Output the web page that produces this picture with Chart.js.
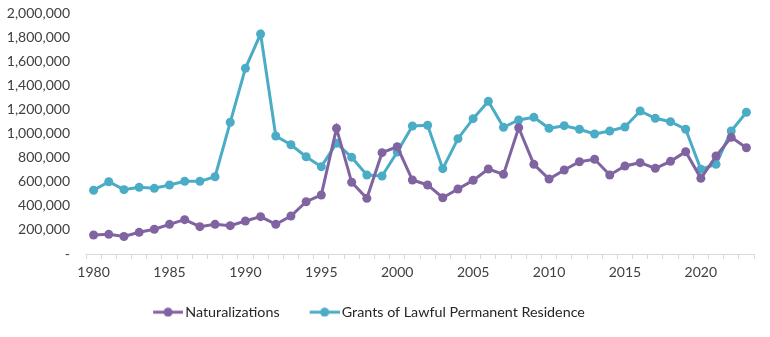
<!DOCTYPE html>
<html>
<head>
<meta charset="utf-8">
<script src="https://cdn.jsdelivr.net/npm/chart.js@4"></script>
<style>
  html, body { margin: 0; padding: 0; background: #fff; }
  #wrap { width: 770px; height: 337px; position: relative; }
</style>
</head>
<body>
<div id="wrap"><canvas id="line-chart"></canvas></div>
<script>
var years = [];
for (var y = 1980; y <= 2023; y++) years.push(String(y));

var naturalizations = [158000, 163000, 145000, 180000, 205000, 246000, 285000, 227000, 246000, 235000,
  274000, 310000, 246000, 315000, 434000, 490000, 1043000, 595000, 462000, 841000,
  890000, 614000, 573000, 467000, 539000, 611000, 705000, 661000, 1048000, 744000,
  622000, 697000, 766000, 786000, 656000, 730000, 758000, 711000, 769000, 849000,
  628000, 813000, 968000, 882000];

var lprGrants = [529000, 600000, 534000, 553000, 545000, 573000, 603000, 603000, 641000, 1093000,
  1541000, 1826000, 979000, 907000, 807000, 725000, 919000, 802000, 656000, 647000,
  846000, 1062000, 1068000, 708000, 957000, 1123000, 1267000, 1051000, 1112000, 1134000,
  1043000, 1065000, 1035000, 996000, 1021000, 1054000, 1187000, 1126000, 1098000, 1035000,
  703000, 744000, 1021000, 1176000];

var purple = "#8064A2";
var teal = "#4BACC6";

// legend marker: short line with a dot, transparent space on the left
function legendMark(color) {
  var c = document.createElement("canvas");
  c.width = 55; c.height = 10;
  var g = c.getContext("2d");
  g.strokeStyle = color; g.lineWidth = 3;
  g.beginPath(); g.moveTo(25, 5); g.lineTo(55, 5); g.stroke();
  g.fillStyle = color;
  g.beginPath(); g.arc(40, 5, 4.5, 0, Math.PI * 2); g.fill();
  return c;
}

var fixLegend = {
  id: 'fixLegend',
  beforeInit: function(chart) {
    var lg = chart.legend;
    if (!lg) return;
    var f = lg.fit;
    lg.fit = function() { f.call(this); this.height = 42; };
  },
  afterLayout: function(chart) {
    var lg = chart.legend;
    if (!lg) return;
    lg.left -= 18;
    lg.right -= 18;
  }
};

var ctx = document.getElementById("line-chart").getContext("2d");

var graphData = {
  type: 'line',
  data: {
    labels: years,
    datasets: [{
      label: 'Naturalizations',
      data: naturalizations,
      borderColor: purple,
      backgroundColor: purple,
      borderWidth: 3,
      pointRadius: 4.5,
      pointHoverRadius: 4.5,
      pointBorderWidth: 0,
      fill: false,
      tension: 0
    }, {
      label: 'Grants of Lawful Permanent Residence',
      data: lprGrants,
      borderColor: teal,
      backgroundColor: teal,
      borderWidth: 3,
      pointRadius: 4.5,
      pointHoverRadius: 4.5,
      pointBorderWidth: 0,
      fill: false,
      tension: 0
    }]
  },
  plugins: [fixLegend],
  options: {
    responsive: true,
    maintainAspectRatio: false,
    animation: false,
    layout: { padding: { top: 13, right: 16, bottom: 0, left: 0 } },
    plugins: {
      tooltip: { enabled: false },
      legend: {
        position: 'bottom',
        labels: {
          font: { family: 'Lato', size: 14.3 },
          color: '#262626',
          usePointStyle: true,
          pointStyleWidth: 45,
          boxHeight: 10,
          padding: 10,
          generateLabels: function(chart) {
            return chart.data.datasets.map(function(ds, i) {
              return {
                text: ds.label,
                pointStyle: legendMark(ds.borderColor),
                fillStyle: ds.borderColor,
                strokeStyle: ds.borderColor,
                lineWidth: 0,
                datasetIndex: i,
                fontColor: '#262626'
              };
            });
          }
        }
      }
    },
    scales: {
      x: {
        offset: true,
        afterFit: function(scale) { scale.height = 41; },
        grid: {
          offset: true,
          drawOnChartArea: false,
          color: '#d9d9d9',
          tickLength: 5
        },
        border: { color: '#d9d9d9' },
        ticks: {
          autoSkip: false,
          maxRotation: 0,
          font: { family: 'Lato', size: 14 },
          color: '#404040',
          padding: 5,
          callback: function(v, i) {
            var lab = this.getLabelForValue(v);
            return (Number(lab) % 5 === 0) ? lab : '';
          }
        }
      },
      y: {
        min: 0,
        max: 2000000,
        // invisible tick marks push the labels away from the plot
        grid: { display: true, drawOnChartArea: false, drawTicks: true, tickLength: 16, color: 'rgba(0,0,0,0)' },
        border: { display: false },
        afterFit: function(scale) { scale.width = 86; },
        ticks: {
          stepSize: 200000,
          padding: 0,
          font: { family: 'Lato', size: 14 },
          color: '#404040',
          callback: function(v) {
            return v === 0 ? '-' : v.toLocaleString('en-US');
          }
        }
      }
    }
  }
};

var myChart = new Chart(ctx, graphData);
</script>
</body>
</html>
